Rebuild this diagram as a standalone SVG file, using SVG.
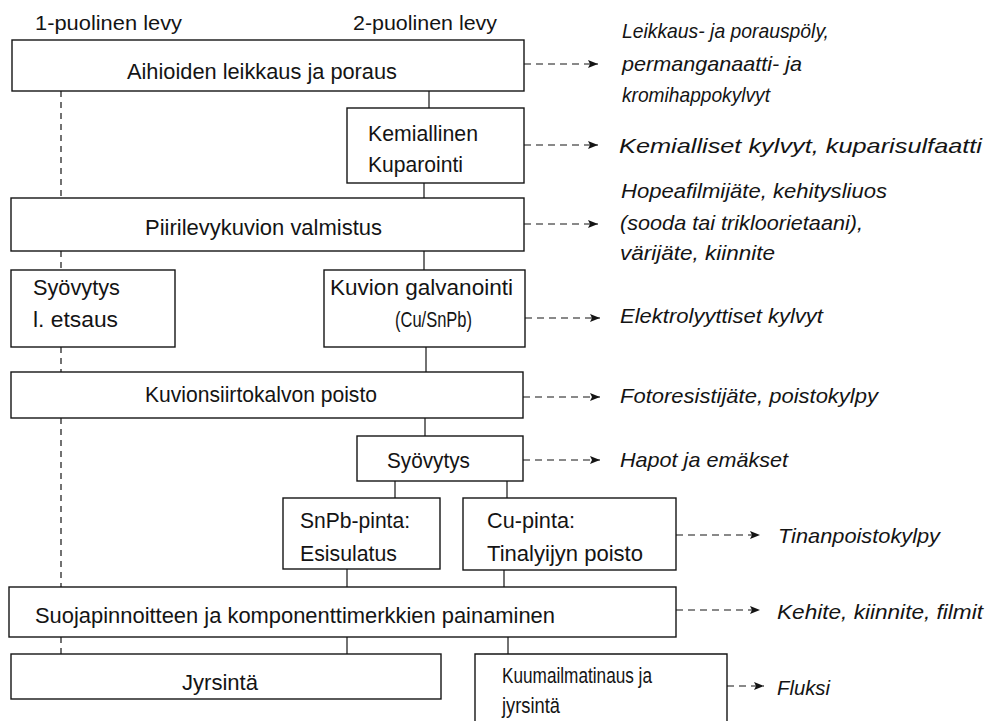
<svg xmlns="http://www.w3.org/2000/svg" width="989" height="721" viewBox="0 0 989 721">
<style>
  .box { fill: none; stroke: #141414; stroke-width: 1.4; }
  .t { font-family: "Liberation Sans", Arial, sans-serif; font-size: 22px; fill: #141414; }
  .h { font-family: "Liberation Sans", Arial, sans-serif; font-size: 21px; fill: #141414; }
  .o { font-family: "Liberation Sans", Arial, sans-serif; font-size: 21px; font-style: italic; fill: #141414; }
  .v { stroke: #141414; stroke-width: 1.2; fill: none; }
  .vd { stroke: #141414; stroke-width: 1.2; fill: none; stroke-dasharray: 6 5; }
  .ar { stroke: #141414; stroke-width: 1.2; fill: none; stroke-dasharray: 7 5; marker-end: url(#ah); }
</style>
<defs>
  <marker id="ah" viewBox="0 0 10 8" refX="10" refY="4" markerWidth="10" markerHeight="8" markerUnits="userSpaceOnUse" orient="auto">
    <path d="M0,0 L10,4 L0,8 L2,4 Z" fill="#141414"/>
  </marker>
</defs>

<g id="headers">
  <text class="h" x="35" y="30" textLength="147" lengthAdjust="spacingAndGlyphs">1-puolinen levy</text>
  <text class="h" x="353" y="30" textLength="144" lengthAdjust="spacingAndGlyphs">2-puolinen levy</text>
</g>

<g id="connectors">
  <line class="vd" x1="61" y1="91" x2="61" y2="198"/>
  <line class="v" x1="429" y1="91" x2="429" y2="108"/>
  <line class="v" x1="424" y1="183" x2="424" y2="198"/>
  <line class="vd" x1="61" y1="251" x2="61" y2="270"/>
  <line class="v" x1="424" y1="251" x2="424" y2="270"/>
  <line class="vd" x1="61" y1="347" x2="61" y2="372"/>
  <line class="v" x1="426" y1="347" x2="426" y2="372"/>
  <line class="vd" x1="61" y1="418" x2="61" y2="587"/>
  <line class="v" x1="425" y1="418" x2="425" y2="436"/>
  <line class="v" x1="395" y1="481" x2="395" y2="498"/>
  <line class="v" x1="507" y1="481" x2="507" y2="498"/>
  <line class="v" x1="347" y1="569" x2="347" y2="587"/>
  <line class="v" x1="504" y1="570" x2="504" y2="587"/>
  <line class="vd" x1="61" y1="637" x2="61" y2="654"/>
  <line class="v" x1="347" y1="637" x2="347" y2="654"/>
  <line class="v" x1="508" y1="637" x2="508" y2="654"/>

  <line class="ar" x1="524" y1="64" x2="598" y2="64"/>
  <line class="ar" x1="524" y1="145" x2="598" y2="145"/>
  <line class="ar" x1="524" y1="224" x2="598" y2="224"/>
  <line class="ar" x1="525" y1="318" x2="600" y2="318"/>
  <line class="ar" x1="523" y1="397" x2="600" y2="397"/>
  <line class="ar" x1="523" y1="460" x2="600" y2="460"/>
  <line class="ar" x1="676" y1="535" x2="760" y2="535"/>
  <line class="ar" x1="676" y1="610" x2="760" y2="610"/>
  <line class="ar" x1="727" y1="686" x2="764" y2="686"/>
</g>

<g id="n1">
  <rect class="box" x="12" y="40" width="512" height="51"/>
  <text class="t" x="127" y="79" textLength="270" lengthAdjust="spacingAndGlyphs">Aihioiden leikkaus ja poraus</text>
</g>
<g id="n2">
  <rect class="box" x="347" y="108" width="177" height="75"/>
  <text class="t" x="368" y="141" textLength="110" lengthAdjust="spacingAndGlyphs">Kemiallinen</text>
  <text class="t" x="368" y="172" textLength="95" lengthAdjust="spacingAndGlyphs">Kuparointi</text>
</g>
<g id="n3">
  <rect class="box" x="11" y="198" width="513" height="53"/>
  <text class="t" x="145" y="235" textLength="237" lengthAdjust="spacingAndGlyphs">Piirilevykuvion valmistus</text>
</g>
<g id="n4">
  <rect class="box" x="11" y="270" width="164" height="77"/>
  <text class="t" x="33" y="295" textLength="87" lengthAdjust="spacingAndGlyphs">Syövytys</text>
  <text class="t" x="33" y="327" textLength="85" lengthAdjust="spacingAndGlyphs">l. etsaus</text>
</g>
<g id="n5">
  <rect class="box" x="324" y="270" width="201" height="77"/>
  <text class="t" x="330" y="295" textLength="183" lengthAdjust="spacingAndGlyphs">Kuvion galvanointi</text>
  <text class="t" x="395" y="327" textLength="77" lengthAdjust="spacingAndGlyphs">(Cu/SnPb)</text>
</g>
<g id="n6">
  <rect class="box" x="11" y="372" width="512" height="46"/>
  <text class="t" x="145" y="402" textLength="232" lengthAdjust="spacingAndGlyphs">Kuvionsiirtokalvon poisto</text>
</g>
<g id="n7">
  <rect class="box" x="357" y="436" width="166" height="45"/>
  <text class="t" x="387" y="468" textLength="83" lengthAdjust="spacingAndGlyphs">Syövytys</text>
</g>
<g id="n8">
  <rect class="box" x="283" y="498" width="157" height="71"/>
  <text class="t" x="300" y="528" textLength="110" lengthAdjust="spacingAndGlyphs">SnPb-pinta:</text>
  <text class="t" x="300" y="561" textLength="97" lengthAdjust="spacingAndGlyphs">Esisulatus</text>
</g>
<g id="n9">
  <rect class="box" x="463" y="498" width="213" height="72"/>
  <text class="t" x="487" y="528" textLength="88" lengthAdjust="spacingAndGlyphs">Cu-pinta:</text>
  <text class="t" x="487" y="561" textLength="156" lengthAdjust="spacingAndGlyphs">Tinalyijyn poisto</text>
</g>
<g id="n10">
  <rect class="box" x="9" y="587" width="667" height="50"/>
  <text class="t" x="35" y="623" textLength="520" lengthAdjust="spacingAndGlyphs">Suojapinnoitteen ja komponenttimerkkien painaminen</text>
</g>
<g id="n11">
  <rect class="box" x="11" y="654" width="430" height="45"/>
  <text class="t" x="182" y="690" textLength="76" lengthAdjust="spacingAndGlyphs">Jyrsintä</text>
</g>
<g id="n12">
  <path class="box" d="M475,722 L475,654 L727,654 L727,722"/>
  <text class="t" x="502" y="683" textLength="150" lengthAdjust="spacingAndGlyphs">Kuumailmatinaus ja</text>
  <text class="t" x="502" y="713" textLength="58" lengthAdjust="spacingAndGlyphs">jyrsintä</text>
</g>

<g id="outputs">
  <text class="o" x="622" y="38" textLength="207" lengthAdjust="spacingAndGlyphs">Leikkaus- ja porauspöly,</text>
  <text class="o" x="622" y="71" textLength="180" lengthAdjust="spacingAndGlyphs">permanganaatti- ja</text>
  <text class="o" x="622" y="102" textLength="148" lengthAdjust="spacingAndGlyphs">kromihappokylvyt</text>
  <text class="o" x="619" y="153" textLength="363" lengthAdjust="spacingAndGlyphs">Kemialliset kylvyt, kuparisulfaatti</text>
  <text class="o" x="621" y="198" textLength="266" lengthAdjust="spacingAndGlyphs">Hopeafilmijäte, kehitysliuos</text>
  <text class="o" x="620" y="230" textLength="243" lengthAdjust="spacingAndGlyphs">(sooda tai trikloorietaani),</text>
  <text class="o" x="620" y="260" textLength="155" lengthAdjust="spacingAndGlyphs">värijäte, kiinnite</text>
  <text class="o" x="620" y="323" textLength="203" lengthAdjust="spacingAndGlyphs">Elektrolyyttiset kylvyt</text>
  <text class="o" x="620" y="403" textLength="258" lengthAdjust="spacingAndGlyphs">Fotoresistijäte, poistokylpy</text>
  <text class="o" x="620" y="467" textLength="168" lengthAdjust="spacingAndGlyphs">Hapot ja emäkset</text>
  <text class="o" x="778" y="543" textLength="162" lengthAdjust="spacingAndGlyphs">Tinanpoistokylpy</text>
  <text class="o" x="777" y="619" textLength="206" lengthAdjust="spacingAndGlyphs">Kehite, kiinnite, filmit</text>
  <text class="o" x="777" y="695" textLength="53" lengthAdjust="spacingAndGlyphs">Fluksi</text>
</g>
</svg>
